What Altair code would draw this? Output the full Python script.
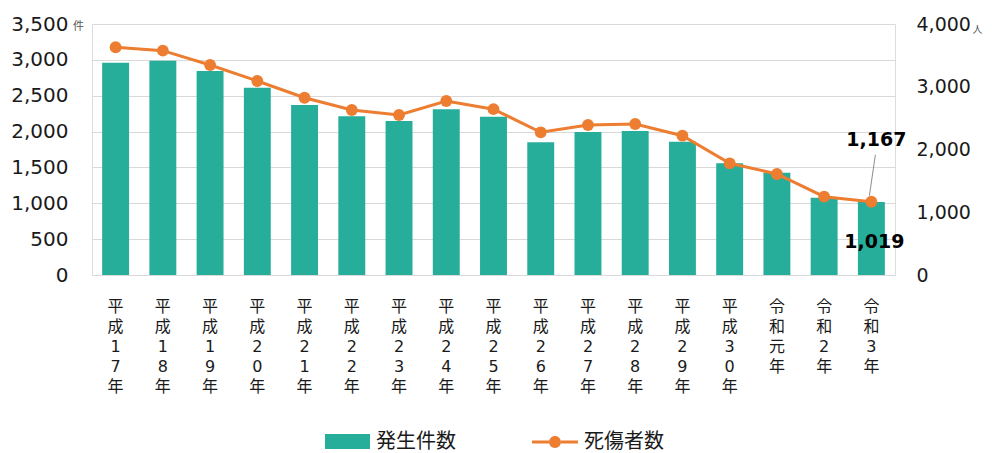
import altair as alt
import pandas as pd

years = ["平成17年", "平成18年", "平成19年", "平成20年", "平成21年", "平成22年",
         "平成23年", "平成24年", "平成25年", "平成26年", "平成27年", "平成28年",
         "平成29年", "平成30年", "令和元年", "令和2年", "令和3年"]
incidents = [2961, 2989, 2845, 2612, 2371, 2213, 2148, 2311, 2206, 1851,
             1994, 2008, 1859, 1558, 1427, 1078, 1019]
casualties = [3629, 3575, 3347, 3092, 2825, 2629, 2550, 2773, 2643, 2274,
              2390, 2406, 2220, 1780, 1610, 1248, 1167]
series = ["発生件数", "死傷者数"]
left_ticks = [0, 500, 1000, 1500, 2000, 2500, 3000, 3500]
right_ticks = [0, 1000, 2000, 3000, 4000]

TEAL = "#27ae9b"
ORANGE = "#ed7d31"
FONT = "DejaVu Sans, Noto Sans CJK JP"
JFONT = "Noto Sans CJK JP"

df = pd.DataFrame({"year": years, "incidents": incidents, "casualties": casualties})
df["s1"] = series[0]
df["s2"] = series[1]
last = df[df["year"] == years[-1]]

XS = alt.Scale(domain=years, paddingInner=0.43, paddingOuter=0.215)
X = alt.X("year:N", sort=years, scale=XS,
          axis=alt.Axis(title=None, labelAngle=0, labelExpr="split(datum.label, '')",
                        labelLineHeight=20, labelFontSize=16, labelPadding=23,
                        labelBaseline="top", labelOverlap=False, ticks=False,
                        domain=False, labelColor="#1a1a1a", labelFont=FONT))
X2 = alt.X("year:N", sort=years, scale=XS)

YL = alt.Y("incidents:Q", scale=alt.Scale(domain=[0, 3500]),
           axis=alt.Axis(orient="left", values=left_ticks, format=",d", title="件",
                         titleAngle=0, titleX=-14, titleY=2, titleAlign="center",
                         titleBaseline="middle", titleFontSize=11, titleFontWeight="normal",
                         titleColor="#555555", titleFont=JFONT,
                         grid=True, gridColor="#d9d9d9", gridWidth=1,
                         domain=False, ticks=False, labelFontSize=20, labelPadding=24,
                         labelOverlap=False, labelColor="#1a1a1a", labelFont=FONT))

YR = alt.Y("casualties:Q", scale=alt.Scale(domain=[0, 4000]),
           axis=alt.Axis(orient="right", values=right_ticks, format=",d", title="人",
                         titleAngle=0, titleX=82, titleY=5, titleAlign="center",
                         titleBaseline="middle", titleFontSize=10, titleFontWeight="normal",
                         titleColor="#555555", titleFont=JFONT,
                         grid=False, domain=False, ticks=False, labelFontSize=19,
                         labelOverlap=False, labelPadding=21, labelColor="#1a1a1a",
                         labelFont=FONT))

RECT_PATH = "M-1,-0.33L1,-0.33L1,0.33L-1,0.33Z"
LINE_PATH = ("M-1,-0.065L-0.26,-0.065L-0.26,0.065L-1,0.065Z "
             "M0.26,-0.065L1,-0.065L1,0.065L0.26,0.065Z "
             "M-0.26,0A0.26,0.26 0 1,0 0.26,0A0.26,0.26 0 1,0 -0.26,0Z")

bars = alt.Chart(df).mark_bar().encode(
    x=X, y=YL,
    color=alt.Color("s1:N", scale=alt.Scale(domain=[series[0]], range=[TEAL]),
                    legend=alt.Legend(title=None, orient="none", legendX=233, legendY=395,
                                      symbolType=RECT_PATH, symbolSize=2025,
                                      symbolStrokeWidth=0, labelFontSize=20,
                                      labelFont=JFONT, labelColor="#1a1a1a",
                                      labelOffset=6)))

bar_text = alt.Chart(last).mark_text(dy=40, dx=3, fontSize=19, fontWeight="bold",
                                     color="#000000", font=FONT).encode(
    x=X2, y=YL, text=alt.Text("incidents:Q", format=",d"))

left = alt.layer(bars, bar_text)

line = alt.Chart(df).mark_line(color=ORANGE, strokeWidth=3).encode(x=X2, y=YR)

pts = alt.Chart(df).mark_point(filled=True, size=140, opacity=1).encode(
    x=X2, y=YR,
    color=alt.Color("s2:N", scale=alt.Scale(domain=[series[1]], range=[ORANGE]),
                    legend=alt.Legend(title=None, orient="none", legendX=440, legendY=395,
                                      symbolType=LINE_PATH, symbolSize=2116,
                                      symbolStrokeWidth=0, symbolOpacity=1,
                                      labelFontSize=20, labelFont=JFONT,
                                      labelColor="#1a1a1a", labelOffset=6)))

leader = alt.Chart(last).mark_rule(color="#8c8c8c", strokeWidth=1, xOffset=-2,
                                   x2Offset=4, yOffset=-6, y2Offset=-47).encode(
    x=X2, x2="year:N", y=YR, y2="casualties:Q")

line_text = alt.Chart(last).mark_text(dy=-62, dx=5, fontSize=19, fontWeight="bold",
                                      color="#000000", font=FONT).encode(
    x=X2, y=YR, text=alt.Text("casualties:Q", format=",d"))

right = alt.layer(line, pts, leader, line_text)

chart = alt.layer(left, right).resolve_scale(
    y="independent", color="independent"
).properties(
    width=803, height=251, autosize="none",
    padding={"left": 84, "top": 16, "right": 89, "bottom": 178}
).configure_view(stroke=None).configure(font=FONT)

chart.save("out.html", embed_options={"renderer": "svg", "actions": False})
